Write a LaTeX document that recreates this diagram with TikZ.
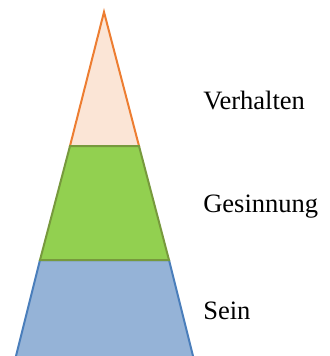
\documentclass[tikz,border=0pt]{standalone}
\usepackage{fontspec}
\setmainfont{Liberation Serif}
\usepackage{xcolor}
\usepackage{tikz}
\usetikzlibrary{positioning}

\definecolor{peachfill}{HTML}{FBE5D6}
\definecolor{peachline}{HTML}{ED7D31}
\definecolor{greenfill}{HTML}{92D050}
\definecolor{greenline}{HTML}{77993D}
\definecolor{bluefill}{HTML}{95B3D7}
\definecolor{blueline}{HTML}{4A7EBB}

\begin{document}
\begin{tikzpicture}[
    x=0.75pt, y=-0.75pt,
    layer/.style={line width=1.5pt, line join=miter},
    label/.style={anchor=base west, inner sep=0pt, font=\fontsize{19.9}{24}\selectfont}
]
\useasboundingbox (0,0) rectangle (329,356);

% corner points of the pyramid
\coordinate (apex) at (104,12);
\coordinate (topl) at (70,146);
\coordinate (topr) at (139,146);
\coordinate (midl) at (40,260);
\coordinate (midr) at (169,260);
\coordinate (basel) at (15.5,358);
\coordinate (baser) at (193.5,358);

\filldraw[layer, draw=peachline, fill=peachfill] (apex) -- (topr) -- (topl) -- cycle;
\filldraw[layer, draw=blueline, fill=bluefill] (midl) -- (midr) -- (baser) -- (basel) -- cycle;
\filldraw[layer, draw=greenline, fill=greenfill] (topl) -- (topr) -- (midr) -- (midl) -- cycle;

\node[label] (verhalten) at (203,110) {Verhalten};
\node[label] (gesinnung) at (203,212) {Gesinnung};
\node[label] (sein) at (203,319) {Sein};
\end{tikzpicture}
\end{document}
